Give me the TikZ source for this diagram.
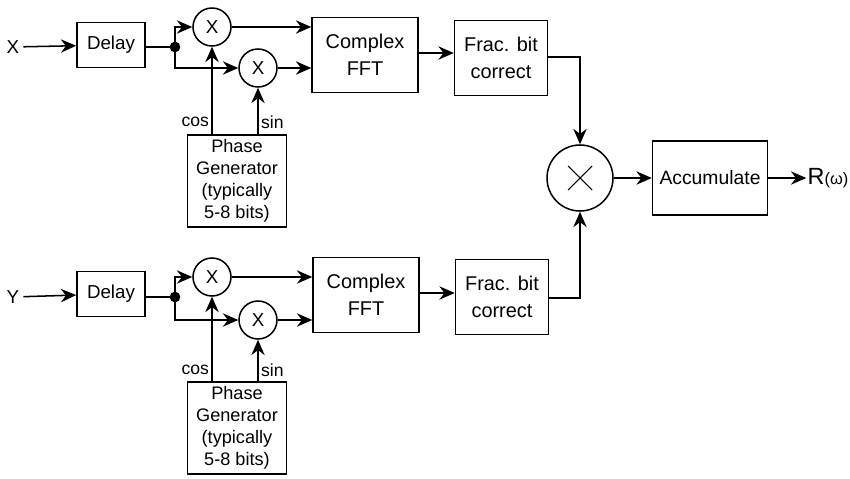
\documentclass[tikz,border=0pt]{standalone}
\usepackage{fontspec}
\setmainfont{Liberation Sans}
\usetikzlibrary{arrows.meta,positioning,calc}

\begin{document}
\begin{tikzpicture}[x=0.03cm,y=-0.03cm,
  blk/.style={rectangle,draw,line width=1.3pt,align=center,inner sep=1pt},
  dl/.style={blk,minimum width=2.04cm,minimum height=1.35cm,font=\fontsize{16}{18}\selectfont},
  fft/.style={blk,minimum width=3.18cm,minimum height=2.25cm,font=\fontsize{17}{23}\selectfont},
  frac/.style={blk,minimum width=2.79cm,minimum height=2.25cm,font=\fontsize{17}{23}\selectfont},
  pg/.style={blk,minimum width=2.97cm,minimum height=2.75cm,font=\fontsize{15.5}{18.7}\selectfont},
  mix/.style={circle,draw,line width=1.3pt,minimum size=1.14cm,inner sep=0pt,font=\fontsize{16}{18}\selectfont},
  dot/.style={circle,fill,inner sep=0pt,minimum size=0.32cm},
  lbl/.style={font=\fontsize{15}{17}\selectfont,inner sep=2pt},
  a/.style={-{Stealth[length=4.6mm,width=4mm,inset=1.5mm]},line width=1.3pt},
  l/.style={line width=1.3pt}
]
\useasboundingbox (0,0) rectangle (850,478);

% upper channel
\node[font=\fontsize{16}{18}\selectfont] (x) at (13,47) {X};
\node[dl] (dly1) at (111,45) {Delay};
\node[dot] (dot1) at (175,47) {};
\node[mix] (mc1) at (212,27) {X};
\node[mix] (ms1) at (258,68) {X};
\node[fft] (fft1) at (365,55) {Complex\\FFT};
\node[frac] (frac1) at (501,58) {Frac. bit\\correct};
\node[pg] (pg1) at (237,181) {Phase\\Generator\\(typically\\5-8 bits)};

% lower channel
\node[font=\fontsize{16}{18}\selectfont] (y) at (13,297) {Y};
\node[dl] (dly2) at (111,294) {Delay};
\node[dot] (dot2) at (175,297) {};
\node[mix] (mc2) at (212,277) {X};
\node[mix] (ms2) at (258,320) {X};
\node[fft] (fft2) at (366,295) {Complex\\FFT};
\node[frac] (frac2) at (502,297) {Frac. bit\\correct};
\node[pg] (pg2) at (237,428) {Phase\\Generator\\(typically\\5-8 bits)};

% correlation and output
\node[mix,minimum size=1.98cm] (mul) at (580,178) {};
\draw[line width=0.9pt] ($(mul.center)+(-12,-12)$) -- ($(mul.center)+(12,12)$)
  ($(mul.center)+(-12,12)$) -- ($(mul.center)+(12,-12)$);
\node[blk,minimum width=3.45cm,minimum height=2.22cm,font=\fontsize{16.5}{19}\selectfont] (acc) at (710,178) {Accumulate};
\node[font=\fontsize{20}{22}\selectfont,inner sep=1pt] (r) at (828,178) {R{\fontsize{14}{15}\selectfont(ω)}};

% wiring upper
\draw[a] (x) -- (dly1);
\draw[l] (dly1.east |- dot1) -- (dot1.center);
\draw[a] (dot1.center) |- (mc1);
\draw[a] (dot1.center) |- (ms1);
\draw[a] (mc1) -- (mc1 -| fft1.west);
\draw[a] (ms1) -- (ms1 -| fft1.west);
\draw[a] (fft1.east |- 0,53) -- (frac1.west |- 0,53);
\draw[a] (pg1.north -| mc1) -- node[lbl,pos=0.14,left]{cos} (mc1.south);
\draw[a] (pg1.north -| ms1) -- node[lbl,pos=0.26,right]{sin} (ms1.south);
\draw[a] (frac1.east |- 0,57) -| (mul.north);

% wiring lower
\draw[a] (y) -- (dly2);
\draw[l] (dly2.east |- dot2) -- (dot2.center);
\draw[a] (dot2.center) |- (mc2);
\draw[a] (dot2.center) |- (ms2);
\draw[a] (mc2) -- (mc2 -| fft2.west);
\draw[a] (ms2) -- (ms2 -| fft2.west);
\draw[a] (fft2.east |- 0,293) -- (frac2.west |- 0,293);
\draw[a] (pg2.north -| mc2) -- node[lbl,pos=0.14,left]{cos} (mc2.south);
\draw[a] (pg2.north -| ms2) -- node[lbl,pos=0.26,right]{sin} (ms2.south);
\draw[a] (frac2.east |- 0,298) -| (mul.south);

\draw[a] (mul) -- (acc);
\draw[a] (acc) -- (r);
\end{tikzpicture}
\end{document}
